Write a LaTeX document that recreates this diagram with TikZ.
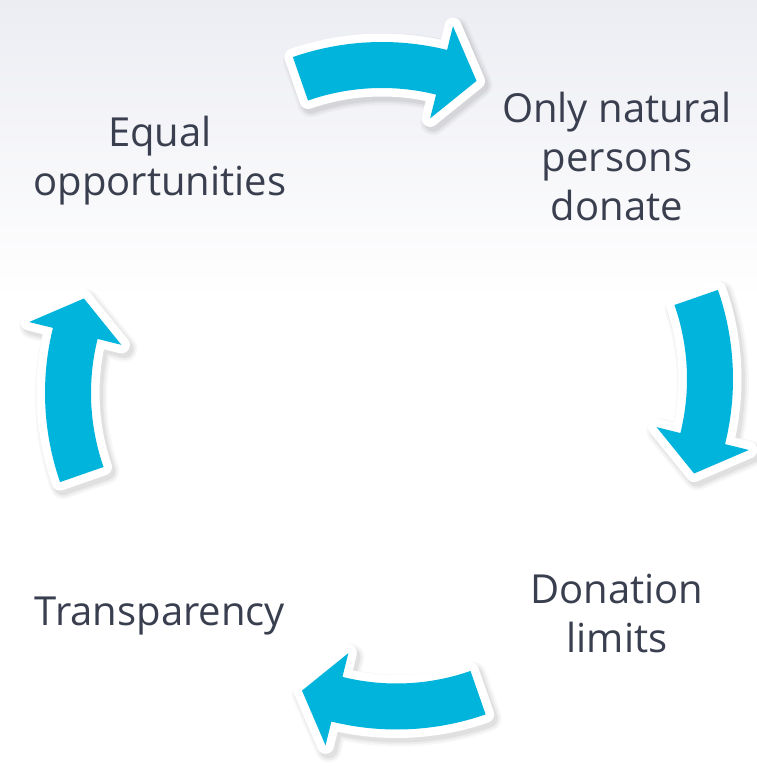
\documentclass[tikz,border=0pt]{standalone}
\usepackage{fontspec}
\setmainfont{Open Sans}
\definecolor{arrowcyan}{RGB}{0,180,220}
\definecolor{labelink}{RGB}{58,63,80}
\definecolor{bgtop}{RGB}{236,237,243}
\tikzset{
  arrowshape/.style={insert path={(109.2:271) arc[start angle=109.2, end angle=76.1, radius=271]
     -- (76.1:295.5) -- (94.5,232.1) -- (76.1:200.5) -- (76.1:225)
     arc[start angle=76.1, end angle=109.2, radius=225] -- cycle}},
  cyclabel/.style={align=center, text=labelink, inner sep=0pt,
     font=\fontsize{40}{49}\selectfont},
}
\newcommand\cyclearrow[5]{% rot, x, y (placement), x, y (shadow placement)
  \begin{scope}[shift={(#4,#5)}, rotate=#1, shift={(-10.5,69.5)}]
    \foreach \w/\o in {26pt/0.03, 22pt/0.04, 18pt/0.05}
      \draw[arrowshape, black, opacity=\o, line width=\w, line join=round];
  \end{scope}
  \begin{scope}[shift={(#2,#3)}, rotate=#1, shift={(-10.5,69.5)}]
    \draw[arrowshape, white, line width=17pt, line join=round];
    \fill[arrowshape, arrowcyan];
  \end{scope}}
\begin{document}
\begin{tikzpicture}[x=1pt, y=1pt]
\useasboundingbox (0,0) rectangle (757,766);
\fill[white] (0,0) rectangle (757,766);
\shade[top color=bgtop, bottom color=white] (0,466) rectangle (757,766);
% arrows: rotation, position of cycle centre (+offset), shadow position
\cyclearrow{0}{392.5}{383.5}{395.5}{379.5}
\cyclearrow{-90}{392.5}{376.5}{395.5}{372.5}
\cyclearrow{180}{386}{377}{389}{373}
\cyclearrow{90}{385.5}{383.5}{388.5}{379.5}
% labels
\node[cyclabel] (equal) at (160,605) {Equal\\opportunities};
\node[cyclabel] (natural) at (617,609) {Only natural\\persons\\donate};
\node[cyclabel] (limits) at (617,152) {Donation\\limits};
\node[cyclabel] (transp) at (160,150) {Transparency};
\end{tikzpicture}
\end{document}
